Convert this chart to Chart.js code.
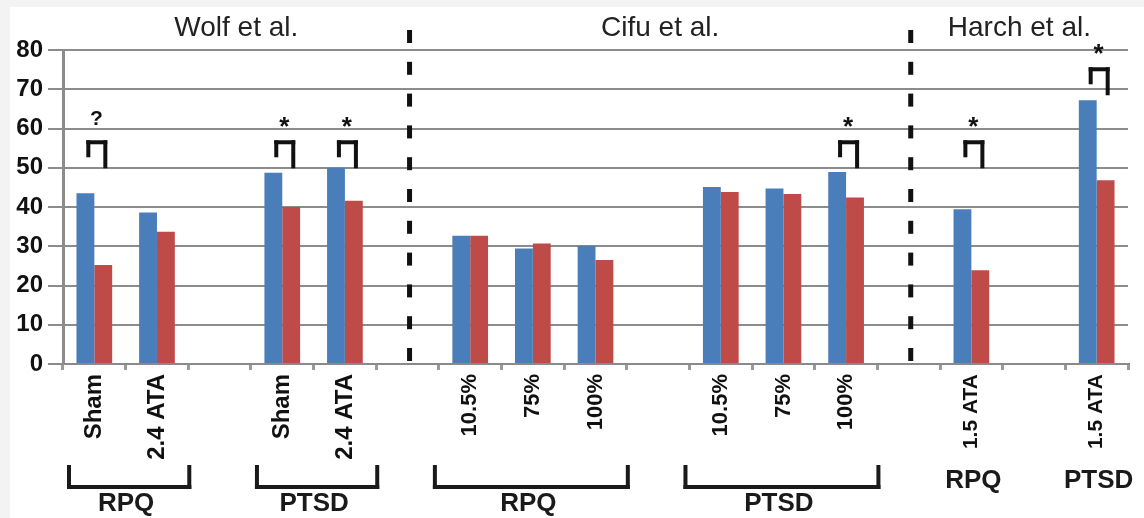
<!DOCTYPE html>
<html>
<head>
<meta charset="utf-8">
<script src="https://cdn.jsdelivr.net/npm/chart.js@4.4.1/dist/chart.umd.min.js"></script>
<style>
  html, body { margin: 0; padding: 0; background: #f3f3f3; }
  canvas { display: block; }
</style>
</head>
<body>
<canvas id="c" width="1144" height="518"></canvas>
<script>
// ---- data ----
const categories = ['Sham', '2.4 ATA', '', 'Sham', '2.4 ATA', '', '10.5%', '75%', '100%', '', '10.5%', '75%', '100%', '', '1.5 ATA', '', '1.5 ATA'];
const seriesBlue = [43.5, 38.6, null, 48.7, 50.0, null, 32.7, 29.4, 30.1, null, 45.1, 44.7, 48.9, null, 39.4, null, 67.2];
const seriesRed  = [25.2, 33.7, null, 40.0, 41.6, null, 32.7, 30.7, 26.5, null, 43.8, 43.3, 42.4, null, 23.9, null, 46.8];
const yTicks = [0, 10, 20, 30, 40, 50, 60, 70, 80];
const studyTitles = ['Wolf et al.', 'Cifu et al.', 'Harch et al.'];
const dividerCats = [5, 13];
const groupLabels = ['RPQ', 'PTSD', 'RPQ', 'PTSD', 'RPQ', 'PTSD'];
const groupFrom = [0, 3, 6, 10, 14, 16];
const groupTo = [1, 4, 8, 12, 14, 16];
const groupBracket = [true, true, true, true, false, false];
const sigCats = [0, 3, 4, 12, 14, 16];
const sigSymbols = ['?', '*', '*', '*', '*', '*'];
const sigLevels = [57, 57, 57, 57, 57, 75.6];

const FONT = "'Liberation Sans', Arial, Helvetica, sans-serif";

const bgPlugin = {
  id: 'bg',
  beforeDraw(chart) {
    const ctx = chart.ctx;
    ctx.save();
    ctx.fillStyle = '#f3f3f3';
    ctx.fillRect(0, 0, chart.width, chart.height);
    ctx.fillStyle = '#ffffff';
    ctx.fillRect(10, 7, chart.width - 10, chart.height - 7);
    ctx.restore();
  }
};

const annoPlugin = {
  id: 'anno',
  afterDraw(chart) {
    const ctx = chart.ctx;
    const x = chart.scales.x, y = chart.scales.y;
    const ca = chart.chartArea;
    const half = (x.getPixelForValue(1) - x.getPixelForValue(0)) / 2;
    ctx.save();
    // dashed dividers
    ctx.fillStyle = '#111';
    const divX = dividerCats.map(c => x.getPixelForValue(c) + 2);
    divX.forEach(dx => {
      for (let yy = 30; yy < ca.bottom + 1; yy += 31.8) {
        const h = Math.min(13, ca.bottom + 1 - yy);
        ctx.fillRect(dx - 2.5, yy, 5, h);
      }
    });
    // study titles
    const bounds = [ca.left, ...divX, ca.right];
    ctx.font = '28px ' + FONT;
    ctx.fillStyle = '#222';
    ctx.textAlign = 'center';
    ctx.textBaseline = 'middle';
    studyTitles.forEach((t, i) => {
      ctx.fillText(t, (bounds[i] + bounds[i + 1]) / 2, 28);
    });
    // groups
    ctx.fillStyle = '#1a1a1a';
    groupLabels.forEach((lab, i) => {
      const shift = groupFrom[i] > 4 ? -6 : 4;
      const x0 = x.getPixelForValue(groupFrom[i]) - half + shift;
      const x1 = x.getPixelForValue(groupTo[i]) + half + 3;
      const cx = (x0 + x1) / 2;
      ctx.font = 'bold 26px ' + FONT;
      ctx.textAlign = 'center';
      ctx.textBaseline = 'middle';
      if (groupBracket[i]) {
        ctx.fillRect(x0, 465, 4, 24);
        ctx.fillRect(x1 - 4, 465, 4, 24);
        ctx.fillRect(x0, 485, x1 - x0, 4);
        ctx.fillText(lab, cx - 3, 504);
      } else {
        ctx.fillText(lab, x.getPixelForValue(groupFrom[i]) + 2, 481);
      }
    });
    // significance markers
    sigCats.forEach((c, i) => {
      const cx = x.getPixelForValue(c) + 2;
      const top = y.getPixelForValue(sigLevels[i]);
      ctx.fillStyle = '#111';
      ctx.fillRect(cx - 10, top, 21, 4);
      ctx.fillRect(cx - 10, top, 4, 17);
      ctx.fillRect(cx + 7, top, 4, 28);
      ctx.textAlign = 'center';
      ctx.textBaseline = 'alphabetic';
      if (sigSymbols[i] === '*') {
        ctx.font = 'bold 26px ' + FONT;
        ctx.fillText('*', cx, top - 5);
      } else {
        ctx.font = 'bold 21px ' + FONT;
        ctx.fillText(sigSymbols[i], cx, top - 15);
      }
    });
    ctx.restore();
  }
};

new Chart(document.getElementById('c'), {
  type: 'bar',
  data: {
    labels: categories,
    datasets: [
      { data: seriesBlue, backgroundColor: '#4a7ebb', categoryPercentage: 0.57, barPercentage: 1 },
      { data: seriesRed, backgroundColor: '#be4b48', categoryPercentage: 0.57, barPercentage: 1 }
    ]
  },
  options: {
    responsive: false,
    animation: false,
    devicePixelRatio: 1,
    layout: { padding: { top: 50, right: 16, left: 0, bottom: 0 } },
    plugins: { legend: { display: false }, tooltip: { enabled: false } },
    scales: {
      x: {
        afterFit(s) { s.height = 154; },
        grid: { display: true, drawOnChartArea: false, tickLength: 6, lineWidth: 3, color: '#9a9a9a', offset: true },
        border: { display: true, color: '#8a8a8a', width: 2 },
        ticks: {
          autoSkip: false, minRotation: 90, maxRotation: 90, padding: 4, color: '#111',
          font: (ctx) => ({ family: FONT, weight: 'bold', size: ctx.index < 5 ? 24 : (ctx.index < 13 ? 22 : 21) })
        }
      },
      y: {
        min: 0, max: 80,
        afterFit(s) { s.width = 63; },
        afterBuildTicks(s) { s.ticks = yTicks.map(v => ({ value: v })); },
        grid: { color: '#8c8c8c', lineWidth: 2, tickLength: 15 },
        border: { display: true, color: '#8c8c8c', width: 3 },
        ticks: { padding: 5, color: '#111', font: { family: FONT, weight: 'bold', size: 24 } }
      }
    }
  },
  plugins: [bgPlugin, annoPlugin]
});
</script>
</body>
</html>
